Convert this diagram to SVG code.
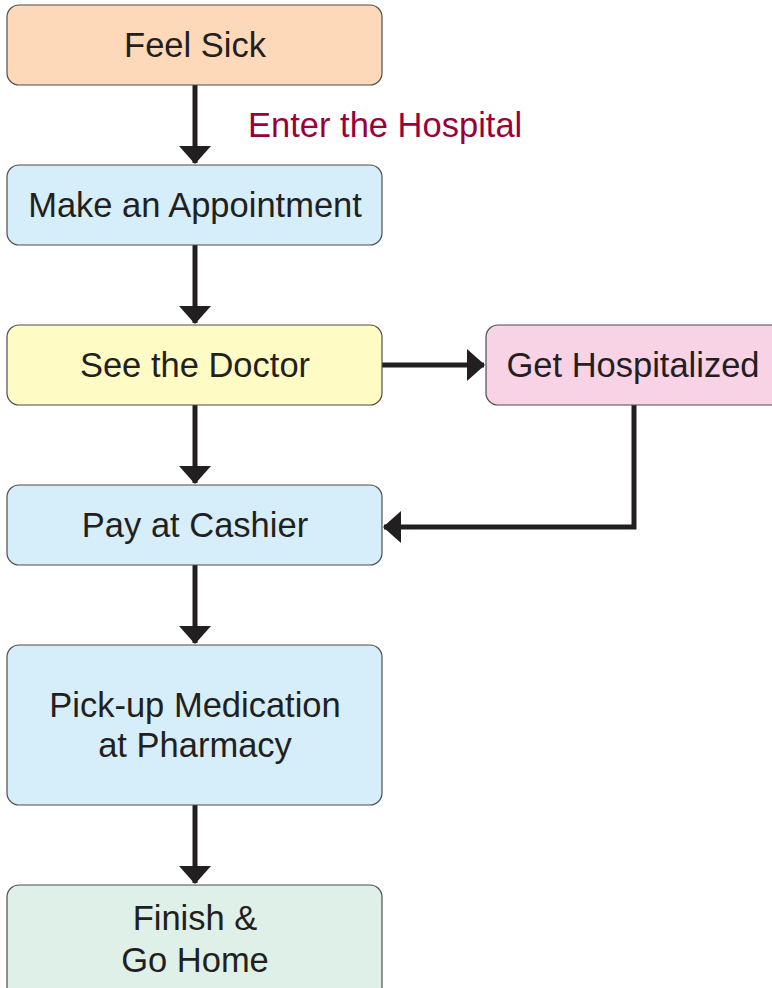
<svg xmlns="http://www.w3.org/2000/svg" width="772" height="988" viewBox="0 0 772 988">
<defs>
<style>
.box{stroke:#4d4d4d;stroke-width:1.2}
.t{font-family:"Liberation Sans",Arial,sans-serif;font-size:34.5px;fill:#231f20;text-anchor:middle}
.lbl{font-family:"Liberation Sans",Arial,sans-serif;font-size:34.5px;fill:#9b0038}
.c{stroke:#231f20;stroke-width:5;fill:none}
</style>
<marker id="ah" viewBox="0 0 18 32" refX="17" refY="16" markerWidth="18" markerHeight="32" markerUnits="userSpaceOnUse" orient="auto">
<path d="M0,0 L18,16 L0,32 Z" fill="#231f20"/>
</marker>
</defs>
<rect width="772" height="988" fill="#fff"/>
<g id="connectors">
<path class="c" d="M195,85 V163" marker-end="url(#ah)"/>
<path class="c" d="M195,245 V323" marker-end="url(#ah)"/>
<path class="c" d="M195,405 V483" marker-end="url(#ah)"/>
<path class="c" d="M195,565 V643" marker-end="url(#ah)"/>
<path class="c" d="M195,805 V883" marker-end="url(#ah)"/>
<path class="c" d="M382,365 H484" marker-end="url(#ah)"/>
<path class="c" d="M634,405 V527 H384" marker-end="url(#ah)"/>
<text class="lbl" x="248" y="137">Enter the Hospital</text>
</g>
<g id="feel-sick">
<rect class="box" x="7" y="5" width="375" height="80" rx="12" fill="#fdd9ba"/>
<text class="t" x="195" y="57">Feel Sick</text>
</g>
<g id="make-appointment">
<rect class="box" x="7" y="165" width="375" height="80" rx="12" fill="#d6edfa"/>
<text class="t" x="195" y="217">Make an Appointment</text>
</g>
<g id="see-doctor">
<rect class="box" x="7" y="325" width="375" height="80" rx="12" fill="#fefbc5"/>
<text class="t" x="195" y="377">See the Doctor</text>
</g>
<g id="get-hospitalized">
<rect class="box" x="486" y="325" width="300" height="80" rx="12" fill="#f8d2e5"/>
<text class="t" x="633" y="377">Get Hospitalized</text>
</g>
<g id="pay-cashier">
<rect class="box" x="7" y="485" width="375" height="80" rx="12" fill="#d6edfa"/>
<text class="t" x="195" y="537">Pay at Cashier</text>
</g>
<g id="pick-up">
<rect class="box" x="7" y="645" width="375" height="160" rx="12" fill="#d6edfa"/>
<text class="t" x="195" y="717">Pick-up Medication</text>
<text class="t" x="195" y="757">at Pharmacy</text>
</g>
<g id="finish">
<rect class="box" x="7" y="885" width="375" height="120" rx="12" fill="#dff0e8"/>
<text class="t" x="195" y="930">Finish &amp;</text>
<text class="t" x="195" y="972">Go Home</text>
</g>
</svg>
